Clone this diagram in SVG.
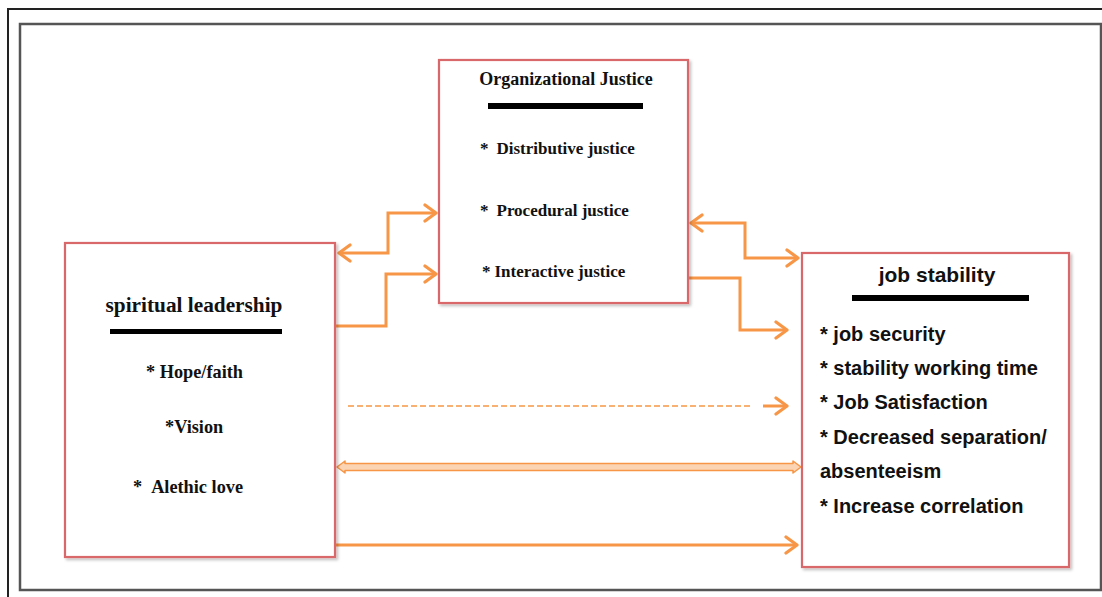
<svg xmlns="http://www.w3.org/2000/svg" width="1102" height="597" viewBox="0 0 1102 597">
<style>
.box{fill:#fff;stroke:#d9686b;stroke-width:2.2;filter:url(#sh)}
.ser{font-family:"Liberation Serif","Times New Roman",serif;font-weight:bold;fill:#111}
.san{font-family:"Liberation Sans",Arial,sans-serif;font-weight:bold;fill:#111}
.bar{fill:#000}
.con{fill:none;stroke:#f79646;stroke-width:3;stroke-linejoin:miter}
</style>
<defs>
<filter id="sh" x="-5%" y="-5%" width="115%" height="115%">
<feDropShadow dx="2" dy="2" stdDeviation="1.5" flood-color="#000" flood-opacity="0.25"/>
</filter>
<marker id="ah" markerUnits="userSpaceOnUse" markerWidth="20" markerHeight="20" viewBox="-14 -10 18 20" refX="0" refY="0" orient="auto-start-reverse">
<path d="M-11,-8 L0,0 L-11,8" fill="none" stroke="#f79646" stroke-width="3.2" stroke-linecap="round" stroke-linejoin="round"/>
</marker>
</defs>
<rect x="0" y="0" width="1102" height="597" fill="#fff"/>
<path d="M8,597 L8,9 L1102,9" fill="none" stroke="#222" stroke-width="2"/>
<rect x="20" y="24" width="1081" height="566" fill="none" stroke="#555" stroke-width="2.5"/>

<g id="connectors">
<path class="con" d="M339,253 L388,253 L388,213 L436,213" marker-start="url(#ah)" marker-end="url(#ah)"/>
<path class="con" d="M336,326 L386,326 L386,274 L436,274" marker-end="url(#ah)"/>
<path class="con" d="M691,223 L745,223 L745,258 L798,258" marker-start="url(#ah)" marker-end="url(#ah)"/>
<path class="con" d="M689,278 L740,278 L740,330 L787,330" marker-end="url(#ah)"/>
<path d="M348,406 L750,406" fill="none" stroke="#f79646" stroke-width="1.5" stroke-dasharray="6,3"/>
<path class="con" d="M763,406 L787,406" marker-end="url(#ah)"/>
<path d="M337,467 L345,461 L345,463.5 L793,463.5 L793,461 L801,467 L793,473 L793,470.5 L345,470.5 L345,473 Z" fill="#fbd4b4" stroke="#f79646" stroke-width="1.5" stroke-linejoin="round"/>
<path class="con" d="M336,545 L797,545" marker-end="url(#ah)"/>
</g>

<g id="org-justice">
<rect class="box" x="439" y="60" width="249" height="243"/>
<text class="ser" x="566" y="85" font-size="18" text-anchor="middle">Organizational Justice</text>
<rect class="bar" x="488" y="103" width="155" height="6"/>
<text class="ser" x="480" y="154" font-size="17">*<tspan dx="8">Distributive justice</tspan></text>
<text class="ser" x="480" y="216" font-size="17">*<tspan dx="8">Procedural justice</tspan></text>
<text class="ser" x="482" y="277" font-size="17">*<tspan dx="4">Interactive justice</tspan></text>
</g>

<g id="spiritual-leadership">
<rect class="box" x="65" y="243" width="270" height="314"/>
<text class="ser" x="194" y="312" font-size="21.3" text-anchor="middle">spiritual leadership</text>
<rect class="bar" x="110" y="329" width="172" height="5"/>
<text class="ser" x="146" y="378" font-size="18.3">* Hope/faith</text>
<text class="ser" x="165" y="433" font-size="18.3">*Vision</text>
<text class="ser" x="133" y="493" font-size="18.3">*<tspan dx="9">Alethic love</tspan></text>
</g>

<g id="job-stability">
<rect class="box" x="802" y="253" width="267" height="314"/>
<text class="san" x="937" y="282" font-size="21" text-anchor="middle">job stability</text>
<rect class="bar" x="852" y="295" width="177" height="6"/>
<text class="san" x="820" y="341" font-size="20">* job security</text>
<text class="san" x="820" y="375" font-size="20">* stability working time</text>
<text class="san" x="820" y="409" font-size="20">* Job Satisfaction</text>
<text class="san" x="820" y="444" font-size="20">* Decreased separation/</text>
<text class="san" x="820" y="478" font-size="20">absenteeism</text>
<text class="san" x="820" y="513" font-size="20">* Increase correlation</text>
</g>
</svg>
